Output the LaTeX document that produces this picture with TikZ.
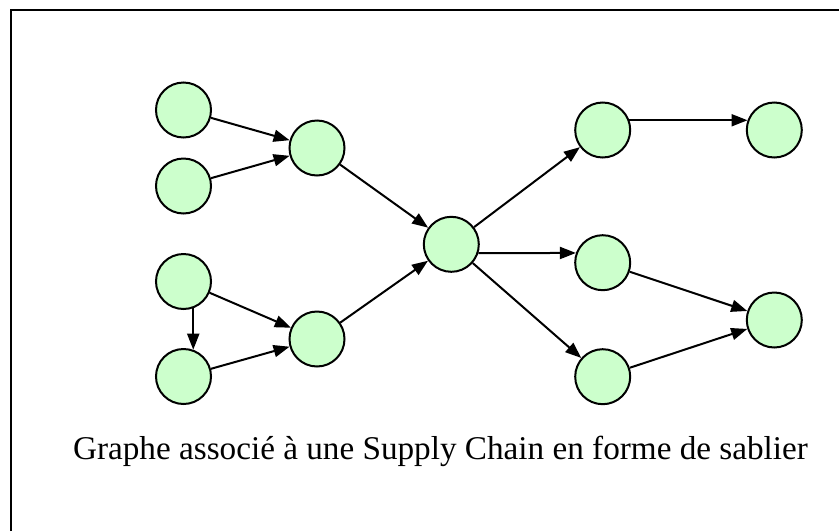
\documentclass[tikz,border=0pt]{standalone}
\usepackage{fontspec}
\setmainfont{Liberation Serif}
\usetikzlibrary{arrows.meta}
\definecolor{nodegreen}{HTML}{CCFFCC}
\begin{document}
\begin{tikzpicture}[x=1pt,y=-1pt,
  vert/.style={circle,draw=black,fill=nodegreen,line width=2pt,minimum size=55pt,inner sep=0pt},
  link/.style={line width=2pt,-{Triangle[length=16pt,width=12pt]}},
  frameline/.style={line width=2pt,draw=black}]
\useasboundingbox (0,0) rectangle (839,531);
\draw[frameline] (11,531) -- (11,10) -- (839,10);
\node[vert] (a1) at (183.5,110) {};
\node[vert] (a2) at (183.5,186) {};
\node[vert] (b1) at (317,148) {};
\node[vert] (a3) at (183.5,281.5) {};
\node[vert] (a4) at (183.5,376.5) {};
\node[vert] (b2) at (317,339) {};
\node[vert] (c) at (451.3,244.3) {};
\node[vert] (d1) at (602.7,130) {};
\node[vert] (e1) at (774.3,130) {};
\node[vert] (d2) at (602.7,262.7) {};
\node[vert] (e2) at (774.3,320) {};
\node[vert] (d3) at (602.7,376.7) {};
\draw[link] (a1) -- (b1);
\draw[link] (a2) -- (b1);
\draw[link] (b1) -- (c);
\draw[link] (a3) -- (b2);
\draw[link] (a3.-70) -- (a4.70);
\draw[link] (a4) -- (b2);
\draw[link] (b2) -- (c);
\draw[link] (c) -- (d1);
\draw[link] (c.-18) -- (d2.160);
\draw[link] (c) -- (d3);
\draw[link] (d1.20) -- (e1.160);
\draw[link] (d2) -- (e2);
\draw[link] (d3) -- (e2);
\node[anchor=base,inner sep=0pt,font=\fontsize{33.2}{40}\selectfont] (cap) at (440.5,459) {Graphe associé à une Supply Chain en forme de sablier};
\end{tikzpicture}
\end{document}
